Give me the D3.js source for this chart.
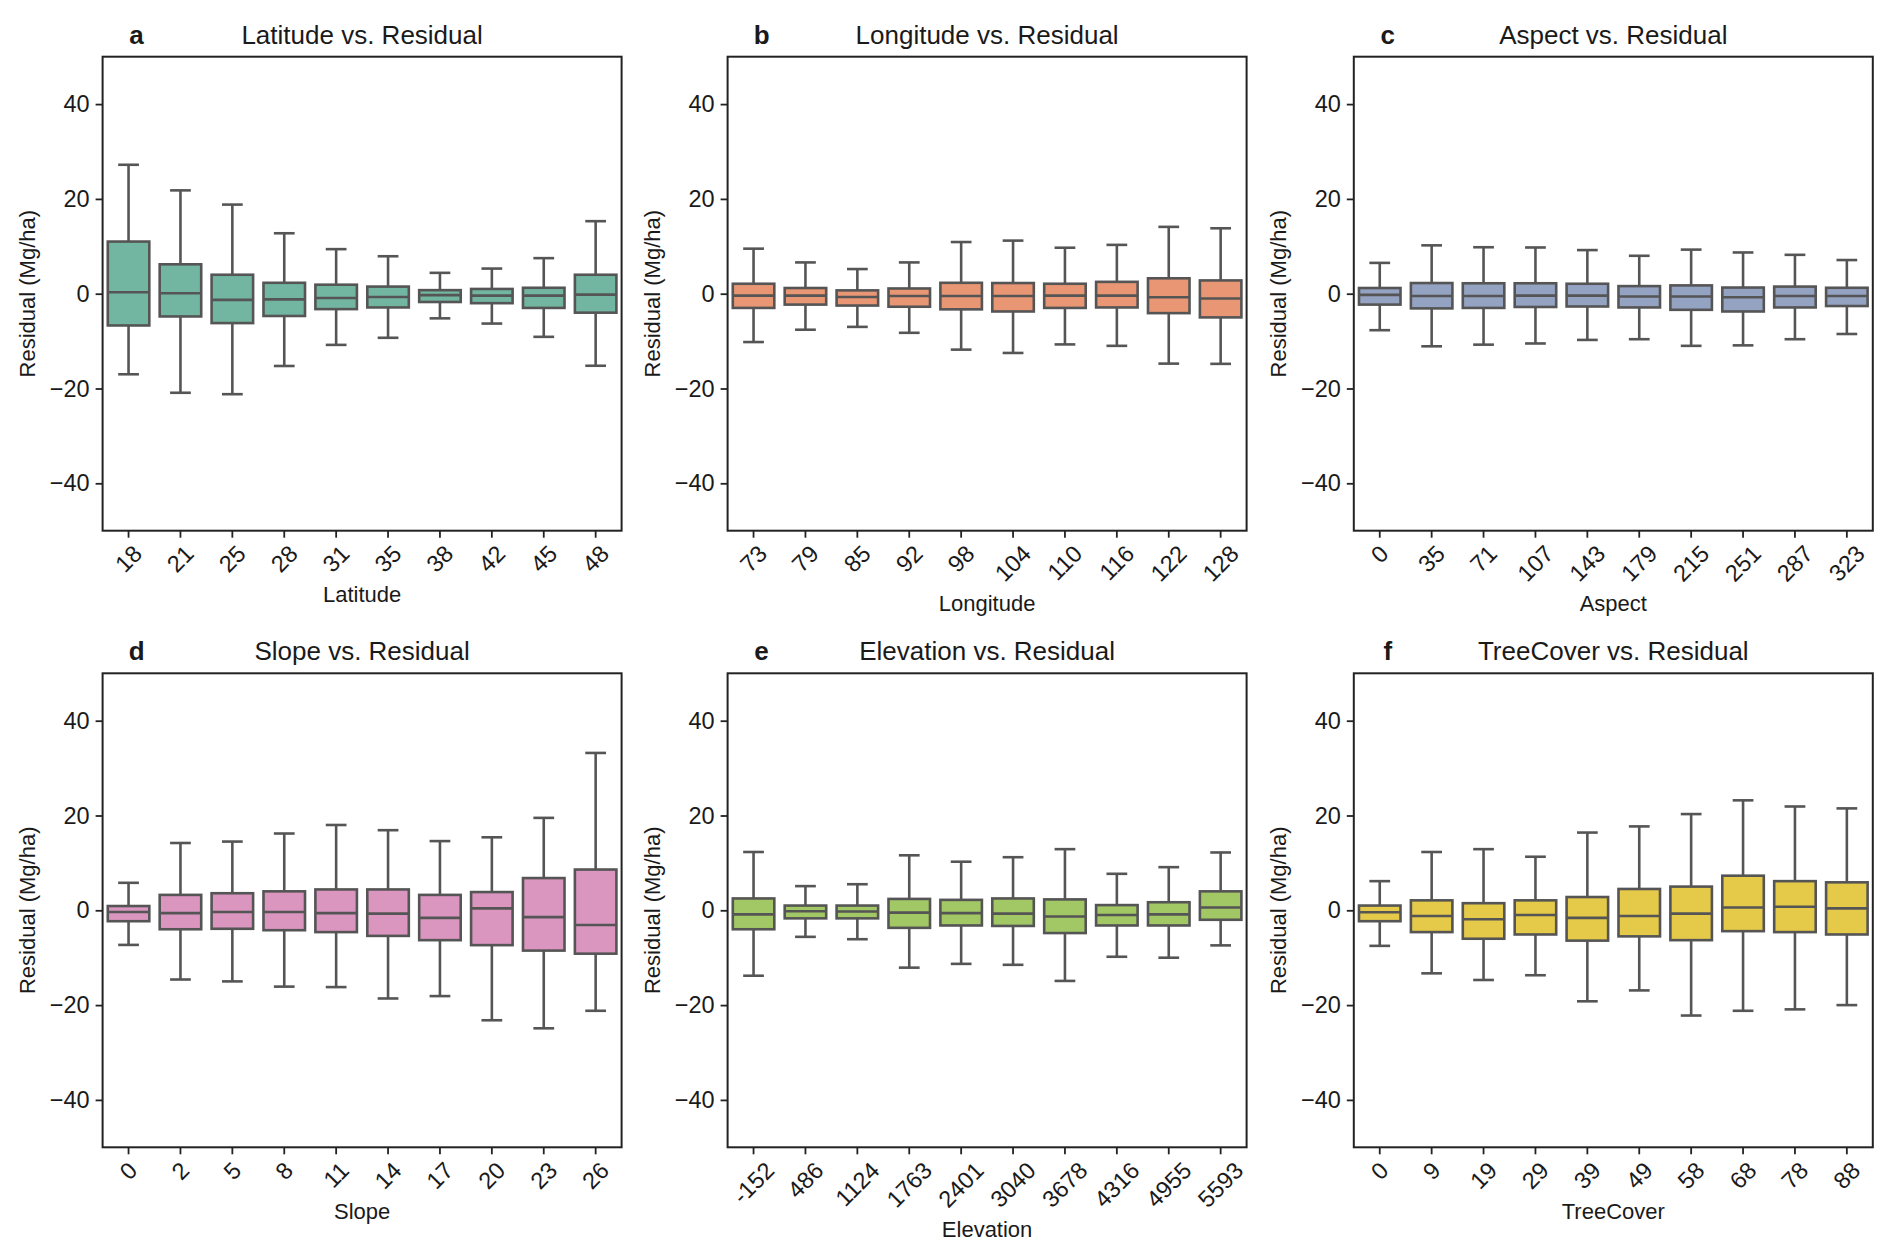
<!DOCTYPE html>
<html>
<head>
<meta charset="utf-8">
<script src="https://cdn.jsdelivr.net/npm/d3@7"></script>
<style>
  html, body { margin: 0; padding: 0; background: #fff; }
  svg { display: block; }
  text { font-family: "Liberation Sans", Arial, Helvetica, sans-serif; fill: #1a1a1a; }
</style>
</head>
<body>
<svg id="chart" width="1892" height="1256"></svg>
<script>
// ---------------- DATA ----------------
// each box: [lower whisker, Q1, median, Q3, upper whisker]
const latitudeCats = ["18","21","25","28","31","35","38","42","45","48"];
const latitudeStats = [
  [-17.0,-6.7,0.3,11.0,27.2],
  [-20.9,-4.8,0.1,6.2,21.8],
  [-21.2,-6.2,-1.3,4.0,18.8],
  [-15.25,-4.7,-1.2,2.3,12.75],
  [-10.8,-3.25,-0.9,1.9,9.4],
  [-9.3,-2.9,-0.7,1.5,7.9],
  [-5.2,-1.75,-0.3,0.75,4.4],
  [-6.3,-2.0,-0.4,1.0,5.3],
  [-9.1,-3.0,-0.4,1.25,7.5],
  [-15.2,-4.0,-0.2,4.0,15.3]
];
const longitudeCats = ["73","79","85","92","98","104","110","116","122","128"];
const longitudeStats = [
  [-10.2,-3.0,-0.4,2.1,9.5],
  [-7.6,-2.3,-0.4,1.2,6.6],
  [-7.0,-2.5,-0.7,0.7,5.2],
  [-8.25,-2.75,-0.5,1.1,6.6],
  [-11.8,-3.3,-0.5,2.3,10.9],
  [-12.5,-3.75,-0.5,2.25,11.2],
  [-10.7,-3.0,-0.4,2.1,9.7],
  [-11.0,-2.9,-0.4,2.5,10.3],
  [-14.75,-4.1,-0.75,3.25,14.1],
  [-14.8,-5.0,-1.0,2.8,13.8]
];
const aspectCats = ["0","35","71","107","143","179","215","251","287","323"];
const aspectStats = [
  [-7.7,-2.3,-0.25,1.2,6.5],
  [-11.1,-3.1,-0.5,2.25,10.2],
  [-10.75,-3.0,-0.5,2.2,9.8],
  [-10.5,-2.8,-0.4,2.2,9.75],
  [-9.75,-2.7,-0.4,2.1,9.2],
  [-9.6,-2.9,-0.6,1.6,8.0],
  [-11.0,-3.4,-0.6,1.75,9.3],
  [-10.9,-3.75,-0.75,1.3,8.7],
  [-9.6,-2.9,-0.5,1.5,8.2],
  [-8.5,-2.6,-0.5,1.25,7.1]
];
const slopeCats = ["0","2","5","8","11","14","17","20","23","26"];
const slopeStats = [
  [-7.3,-2.3,-0.35,0.9,5.8],
  [-14.6,-4.0,-0.6,3.25,14.2],
  [-15.0,-3.9,-0.35,3.6,14.5],
  [-16.1,-4.2,-0.35,4.0,16.2],
  [-16.2,-4.6,-0.6,4.4,18.0],
  [-18.6,-5.4,-0.7,4.4,16.9],
  [-18.1,-6.3,-1.6,3.25,14.6],
  [-23.2,-7.35,0.4,3.85,15.4],
  [-24.9,-8.5,-1.45,6.8,19.5],
  [-21.2,-9.15,-3.1,8.6,33.2]
];
const elevationCats = ["-152","486","1124","1763","2401","3040","3678","4316","4955","5593"];
const elevationStats = [
  [-13.8,-4.0,-0.85,2.5,12.3],
  [-5.6,-1.7,-0.2,1.0,5.1],
  [-6.1,-1.7,-0.25,1.0,5.5],
  [-12.1,-3.7,-0.5,2.4,11.6],
  [-11.3,-3.2,-0.6,2.2,10.25],
  [-11.5,-3.3,-0.7,2.5,11.2],
  [-14.9,-4.8,-1.3,2.3,12.9],
  [-9.8,-3.2,-1.0,1.1,7.7],
  [-10.0,-3.2,-0.85,1.7,9.1],
  [-7.4,-2.0,0.6,4.0,12.2]
];
const treeCoverCats = ["0","9","19","29","39","49","58","68","78","88"];
const treeCoverStats = [
  [-7.5,-2.3,-0.4,1.0,6.15],
  [-13.3,-4.6,-1.2,2.1,12.3],
  [-14.7,-6.0,-1.9,1.5,12.9],
  [-13.7,-5.1,-1.0,2.1,11.3],
  [-19.2,-6.4,-1.6,2.8,16.4],
  [-16.9,-5.5,-1.2,4.5,17.7],
  [-22.2,-6.3,-0.7,5.0,20.3],
  [-21.2,-4.4,0.6,7.3,23.2],
  [-20.9,-4.6,0.75,6.15,21.9],
  [-20.0,-5.1,0.4,5.9,21.5]
];
const yTicks = [-40, -20, 0, 20, 40];
const yDomain = [-50, 50];
const panelLetters = ["a","b","c","d","e","f"];
const panelVars = ["Latitude","Longitude","Aspect","Slope","Elevation","TreeCover"];
const panelColors = ["#66c2a5","#fc8d62","#8da0cb","#e78ac3","#a6d854","#ffd92f"];
const yLabel = "Residual (Mg/ha)";

// ---------------- LAYOUT ----------------
const colLeft = [102.6, 727.6, 1353.8];
const rowTop = [56.7, 673.3];
const axW = 519, axH = 474;
const lineCol = "#555555";
const tickFs = 23.5, labelFs = 22, titleFs = 26;

const panels = [
  {cats: latitudeCats, stats: latitudeStats},
  {cats: longitudeCats, stats: longitudeStats},
  {cats: aspectCats, stats: aspectStats},
  {cats: slopeCats, stats: slopeStats},
  {cats: elevationCats, stats: elevationStats},
  {cats: treeCoverCats, stats: treeCoverStats}
];

const svg = d3.select("#chart");

function desat(c, p) { const h = d3.hsl(c); h.s *= p; return h.formatHex(); }

panels.forEach((p, i) => {
  const left = colLeft[i % 3], top = rowTop[Math.floor(i / 3)];
  const g = svg.append("g").attr("transform", `translate(${left},${top})`);
  const x = d3.scaleBand().domain(p.cats).range([0, axW]).paddingInner(0).paddingOuter(0);
  const y = d3.scaleLinear().domain(yDomain).range([axH, 0]);
  const fill = desat(panelColors[i], 0.75);
  const bw = x.bandwidth() * 0.8;
  const capW = bw * 0.5;

  // boxes
  const bx = g.append("g");
  p.cats.forEach((c, j) => {
    const s = p.stats[j];
    const cx = x(c) + x.bandwidth() / 2;
    const gg = bx.append("g");
    gg.append("line").attr("x1", cx).attr("x2", cx).attr("y1", y(s[3])).attr("y2", y(s[4]))
      .attr("stroke", lineCol).attr("stroke-width", 2.6);
    gg.append("line").attr("x1", cx).attr("x2", cx).attr("y1", y(s[1])).attr("y2", y(s[0]))
      .attr("stroke", lineCol).attr("stroke-width", 2.6);
    gg.append("line").attr("x1", cx - capW / 2).attr("x2", cx + capW / 2).attr("y1", y(s[4])).attr("y2", y(s[4]))
      .attr("stroke", lineCol).attr("stroke-width", 2.6);
    gg.append("line").attr("x1", cx - capW / 2).attr("x2", cx + capW / 2).attr("y1", y(s[0])).attr("y2", y(s[0]))
      .attr("stroke", lineCol).attr("stroke-width", 2.6);
    gg.append("rect").attr("x", cx - bw / 2).attr("width", bw)
      .attr("y", y(s[3])).attr("height", y(s[1]) - y(s[3]))
      .attr("fill", fill).attr("stroke", lineCol).attr("stroke-width", 2.6);
    gg.append("line").attr("x1", cx - bw / 2).attr("x2", cx + bw / 2).attr("y1", y(s[2])).attr("y2", y(s[2]))
      .attr("stroke", lineCol).attr("stroke-width", 2.6);
  });

  // y axis
  const ya = g.append("g").call(d3.axisLeft(y).tickValues(yTicks).tickSize(7).tickPadding(6)
      .tickFormat(d => d < 0 ? "\u2212" + Math.abs(d) : String(d)));
  ya.select(".domain").remove();
  ya.selectAll(".tick line").attr("stroke", "#222").attr("stroke-width", 1.8);
  ya.selectAll(".tick text").attr("font-size", tickFs).attr("fill", "#1a1a1a")
    .style("font-family", '"Liberation Sans", Arial, sans-serif');

  // x axis
  const xa = g.append("g").attr("transform", `translate(0,${axH})`)
    .call(d3.axisBottom(x).tickSize(7).tickFormat(""));
  xa.select(".domain").remove();
  xa.selectAll(".tick line").attr("stroke", "#222").attr("stroke-width", 1.8);

  // rotated x tick labels
  let maxBottom = 0;
  const h = 0.72 * tickFs;
  p.cats.forEach(c => {
    const cx = x(c) + x.bandwidth() / 2;
    const t = g.append("text").text(c).attr("font-size", tickFs)
      .attr("text-anchor", "middle").attr("dominant-baseline", "central");
    const w = t.node().getComputedTextLength();
    const half = (w + h) / (2 * Math.SQRT2);
    const cy = axH + 7 + 6 + half;
    t.attr("transform", `translate(${cx},${cy}) rotate(-45)`);
    maxBottom = Math.max(maxBottom, cy + half);
  });

  // frame
  g.append("rect").attr("width", axW).attr("height", axH).attr("fill", "none")
    .attr("stroke", "#222").attr("stroke-width", 2);

  // labels
  g.append("text").attr("x", axW / 2).attr("y", maxBottom + 28).attr("text-anchor", "middle")
    .attr("font-size", labelFs).text(panelVars[i]);
  g.append("text").attr("transform", `translate(${-68},${axH / 2}) rotate(-90)`)
    .attr("text-anchor", "middle").attr("font-size", labelFs).text(yLabel);
  g.append("text").attr("x", axW / 2).attr("y", -13).attr("text-anchor", "middle")
    .attr("font-size", titleFs).text(panelVars[i] + " vs. Residual");
  g.append("text").attr("x", 34).attr("y", -13).attr("text-anchor", "middle")
    .attr("font-size", titleFs).attr("font-weight", "bold").text(panelLetters[i]);
});
</script>
</body>
</html>
